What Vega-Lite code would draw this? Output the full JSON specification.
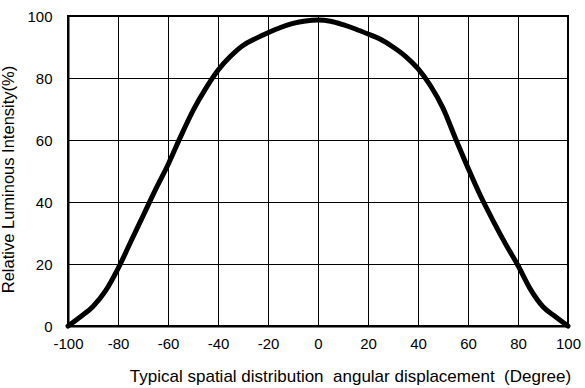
{
  "$schema": "https://vega.github.io/schema/vega-lite/v6.json",
  "width": 500,
  "height": 310,
  "autosize": {"type": "none"},
  "padding": {"left": 68, "top": 16, "right": 17, "bottom": 62},
  "background": "white",
  "config": {
    "view": {"stroke": "black", "strokeWidth": 2},
    "font": "Liberation Sans"
  },
  "data": {
    "values": [
      {"deg": -100, "val": 0},
      {"deg": -95, "val": 3},
      {"deg": -90, "val": 6.3},
      {"deg": -85, "val": 11.3},
      {"deg": -80, "val": 18.5},
      {"deg": -75, "val": 27},
      {"deg": -70, "val": 35.5},
      {"deg": -65, "val": 44},
      {"deg": -60, "val": 52},
      {"deg": -55, "val": 61},
      {"deg": -50, "val": 69.5},
      {"deg": -45, "val": 76.5},
      {"deg": -40, "val": 82.5},
      {"deg": -35, "val": 87},
      {"deg": -30, "val": 90.5},
      {"deg": -25, "val": 92.7},
      {"deg": -20, "val": 94.6},
      {"deg": -15, "val": 96.3},
      {"deg": -10, "val": 97.6},
      {"deg": -5, "val": 98.4},
      {"deg": 0, "val": 98.7},
      {"deg": 5, "val": 98.3},
      {"deg": 10, "val": 97.2},
      {"deg": 15, "val": 95.8},
      {"deg": 20, "val": 94.2},
      {"deg": 25, "val": 92.5},
      {"deg": 30, "val": 90},
      {"deg": 35, "val": 87},
      {"deg": 40, "val": 83},
      {"deg": 45, "val": 77.5},
      {"deg": 50, "val": 70.3},
      {"deg": 55, "val": 60.5},
      {"deg": 60, "val": 51},
      {"deg": 65, "val": 42},
      {"deg": 70, "val": 34},
      {"deg": 75, "val": 26.5},
      {"deg": 80, "val": 19.5},
      {"deg": 85, "val": 11.8},
      {"deg": 90, "val": 6.2},
      {"deg": 95, "val": 3},
      {"deg": 100, "val": 0}
    ]
  },
  "mark": {"type": "line", "color": "black", "strokeWidth": 5, "interpolate": "monotone", "clip": false, "strokeCap": "round"},
  "encoding": {
    "x": {
      "field": "deg",
      "type": "quantitative",
      "scale": {"domain": [-100, 100], "nice": false, "zero": false},
      "axis": {
        "values": [-100, -80, -60, -40, -20, 0, 20, 40, 60, 80, 100],
        "labelExpr": "'' + datum.value",
        "title": "Typical spatial distribution\u00a0 angular displacement\u00a0 (Degree)",
        "titleFont": "Liberation Sans",
        "titleFontSize": 17,
        "titleFontWeight": "normal",
        "titleColor": "black",
        "titleX": 282,
        "titleY": 55,
        "titleAnchor": "middle",
        "titleBaseline": "alphabetic",
        "labelFont": "Liberation Sans",
        "labelFontSize": 15,
        "labelColor": "black",
        "labelPadding": 10,
        "labelFlush": false,
        "labelOverlap": false,
        "ticks": false,
        "domain": true,
        "domainColor": "black",
        "domainWidth": 2,
        "grid": true,
        "gridColor": "black",
        "gridWidth": 1,
        "gridOpacity": 1
      }
    },
    "y": {
      "field": "val",
      "type": "quantitative",
      "scale": {"domain": [0, 100], "nice": false},
      "axis": {
        "values": [0, 20, 40, 60, 80, 100],
        "title": "Relative Luminous Intensity(%)",
        "titleFont": "Liberation Sans",
        "titleFontSize": 16.5,
        "titleFontWeight": "normal",
        "titleColor": "black",
        "titleX": -52,
        "titleY": 163,
        "titleAnchor": "middle",
        "labelFont": "Liberation Sans",
        "labelFontSize": 15,
        "labelColor": "black",
        "labelPadding": 16,
        "labelFlush": false,
        "labelOverlap": false,
        "ticks": false,
        "domain": true,
        "domainColor": "black",
        "domainWidth": 2,
        "grid": true,
        "gridColor": "black",
        "gridWidth": 1,
        "gridOpacity": 1
      }
    }
  }
}
